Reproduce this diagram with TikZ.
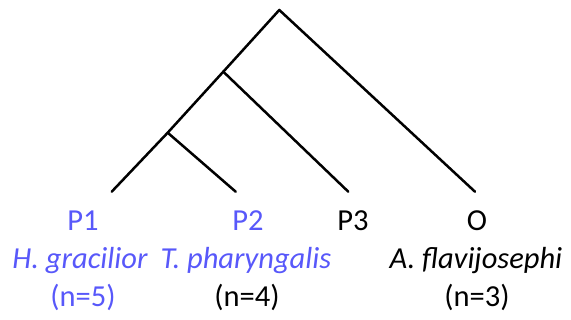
\documentclass[tikz,border=0pt]{standalone}
\usepackage{fontspec}
\setmainfont{Carlito}
\definecolor{tblue}{RGB}{88,88,250}
\begin{document}
\begin{tikzpicture}[x=1pt,y=-1pt,
  branch/.style={line width=2.5pt,line cap=round,line join=round},
  lab/.style={inner sep=0pt,anchor=base,font=\fontsize{30.5}{34}\selectfont}]
\useasboundingbox (0,0) rectangle (571,320);
\coordinate (root) at (279.3,10);
\coordinate (a) at (223.3,71.7);
\coordinate (b) at (167.7,132.7);
\coordinate (l1) at (111.7,191.7);
\coordinate (l2) at (235.7,191.7);
\coordinate (l3) at (348.3,191.7);
\coordinate (l4) at (475,191.7);
\draw[branch] (l1) -- (b) -- (a) -- (root) -- (l4);
\draw[branch] (b) -- (l2);
\draw[branch] (a) -- (l3);
\node[lab,text=tblue] (p1) at (83,231) {P1};
\node[lab,text=tblue] (p2) at (248,231) {P2};
\node[lab] (p3) at (353,231) {P3};
\node[lab] (o) at (477,231) {O};
\node[lab,text=tblue] (s1) at (80,269) {\itshape H. gracilior};
\node[lab,text=tblue] (s2) at (246,269) {\itshape T. pharyngalis};
\node[lab] (s4) at (476,269) {\itshape A. flavijosephi};
\node[lab,text=tblue] (n1) at (83,307) {(n=5)};
\node[lab] (n2) at (247,307) {(n=4)};
\node[lab] (n4) at (477,307) {(n=3)};
\end{tikzpicture}
\end{document}
